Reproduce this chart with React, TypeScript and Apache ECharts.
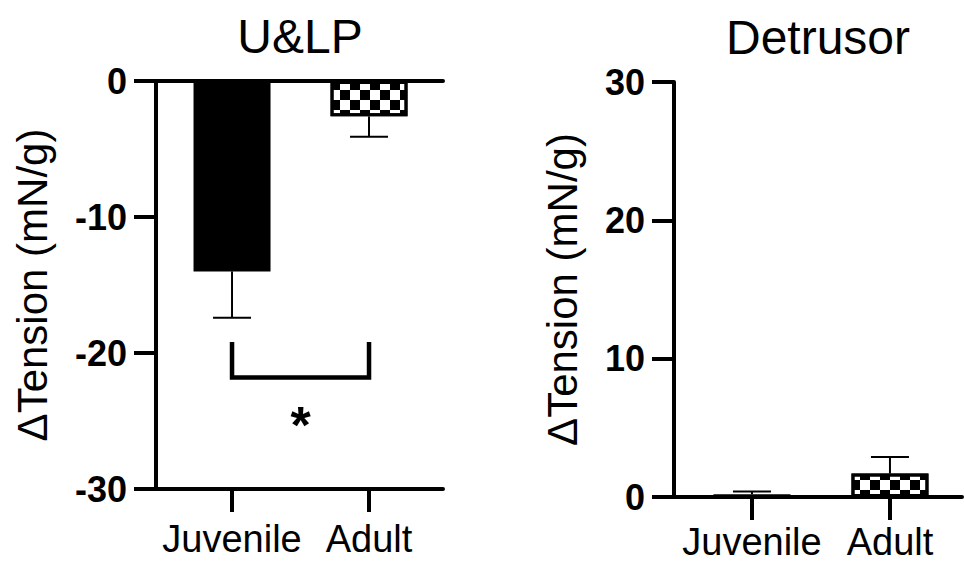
import React, { useEffect, useRef } from 'react';
import * as echarts from 'echarts';

// ---- data ----
const categories = ['Juvenile', 'Adult'];
const ulpMeans = [-14, -2.6];
const ulpSem = [3.4, 1.5];
const detMeans = [0.2, 1.7];
const detSem = [0.2, 1.2];
const ulpRange = [-30, 0];
const detRange = [0, 30];
const tickStep = 10;
const sigPair = [0, 1];
const sigLevels = [-19.2, -21.8];
const sigStarY = -25.3;
const sigText = '*';
const titles = ['U&LP', 'Detrusor'];
const yName = '\u0394Tension (mN/g)';

const FONT = "'Liberation Sans', Arial, Helvetica, sans-serif";

const checker = {
  symbol: 'rect',
  symbolSize: 1,
  color: '#000',
  backgroundColor: '#fff',
  dashArrayX: [[10, 10], [0, 10, 10, 0]],
  dashArrayY: [10, 0],
  rotation: 0,
};

function barData(means: number[]) {
  return means.map((m, i) =>
    i === 0
      ? { value: [i, m], itemStyle: { color: '#000' } }
      : { value: [i, m], itemStyle: { color: '#fff', borderColor: '#000', borderWidth: 3, decal: checker } }
  );
}

function errorSeries(idx: number, means: number[], sems: number[]) {
  return {
    type: 'custom',
    xAxisIndex: idx === 0 ? 0 : 2,
    yAxisIndex: idx,
    z: 5,
    silent: true,
    data: means.map((m, i) => [i, m, sems[i]]),
    renderItem: (params: any, api: any) => {
      const x = api.value(0);
      const m = api.value(1);
      const e = api.value(2);
      const end = m + (m < 0 ? -e : e);
      const p0 = api.coord([x, m]);
      const p1 = api.coord([x, end]);
      return {
        type: 'group',
        children: [
          { type: 'line', shape: { x1: p0[0], y1: p0[1], x2: p1[0], y2: p1[1] }, style: { stroke: '#000', lineWidth: 2 } },
          { type: 'line', shape: { x1: p1[0] - 19, y1: p1[1], x2: p1[0] + 19, y2: p1[1] }, style: { stroke: '#000', lineWidth: 2 } },
        ],
      };
    },
  };
}

const axisLineStyle = { color: '#000', width: 4 };

function catAxis(gridIndex: number, min: number, max: number, margin: number) {
  return {
    type: 'value',
    gridIndex,
    position: 'bottom',
    min,
    max,
    axisLine: { show: true, onZero: false, lineStyle: axisLineStyle },
    axisTick: { show: true, customValues: [0, 1], length: 23, lineStyle: { color: '#000', width: 4 } },
    axisLabel: {
      show: true,
      customValues: [0, 1],
      formatter: (v: number) => categories[Math.round(v)] ?? '',
      color: '#000',
      fontSize: 38,
      fontFamily: FONT,
      margin,
    },
    splitLine: { show: false },
  };
}

function valAxis(gridIndex: number, range: number[], nameGap: number) {
  return {
    type: 'value',
    gridIndex,
    position: 'left',
    min: range[0],
    max: range[1],
    interval: tickStep,
    name: yName,
    nameLocation: 'middle',
    nameGap,
    nameTextStyle: { color: '#000', fontSize: 42, fontFamily: FONT },
    axisLine: { show: true, onZero: false, lineStyle: axisLineStyle },
    axisTick: { show: true, length: 22, lineStyle: { color: '#000', width: 4 } },
    axisLabel: { color: '#000', fontSize: 36, fontWeight: 'bold', fontFamily: FONT, margin: 29 },
    splitLine: { show: false },
  };
}

export default function App() {
  const ref = useRef<HTMLDivElement>(null);
  useEffect(() => {
    if (!ref.current) return;
    const chart = echarts.init(ref.current, undefined, { renderer: 'svg' });
    const option: any = {
      animation: false,
      backgroundColor: '#fff',
      textStyle: { fontFamily: FONT },
      grid: [
        { left: 156, top: 81, width: 287, height: 408 },
        { left: 674, top: 82, width: 288, height: 415 },
      ],
      xAxis: [
        catAxis(0, -0.555, 1.54, 31),
        {
          type: 'value',
          gridIndex: 0,
          position: 'top',
          min: -0.555,
          max: 1.54,
          axisLine: { show: true, onZero: false, lineStyle: axisLineStyle },
          axisTick: { show: false },
          axisLabel: { show: false },
          splitLine: { show: false },
        },
        catAxis(1, -0.565, 1.522, 26),
      ],
      yAxis: [valAxis(0, ulpRange, 103), valAxis(1, detRange, 91)],
      graphic: [
        {
          type: 'text',
          x: 300,
          y: 12,
          style: { text: titles[0], fontSize: 48, fontFamily: FONT, fill: '#000', align: 'center', verticalAlign: 'top' },
        },
        {
          type: 'text',
          x: 818,
          y: 13,
          style: { text: titles[1], fontSize: 48, fontFamily: FONT, fill: '#000', align: 'center', verticalAlign: 'top' },
        },
      ],
      series: [
        {
          type: 'bar',
          xAxisIndex: 0,
          yAxisIndex: 0,
          barWidth: 77,
          data: barData(ulpMeans),
          silent: true,
        },
        errorSeries(0, ulpMeans, ulpSem),
        {
          type: 'bar',
          xAxisIndex: 2,
          yAxisIndex: 1,
          barWidth: 77,
          data: barData(detMeans),
          silent: true,
        },
        errorSeries(1, detMeans, detSem),
        {
          type: 'custom',
          xAxisIndex: 0,
          yAxisIndex: 0,
          silent: true,
          z: 6,
          data: [[sigPair[0], sigPair[1], sigLevels[0], sigLevels[1], sigStarY]],
          renderItem: (params: any, api: any) => {
            const a = api.value(0);
            const b = api.value(1);
            const top = api.value(2);
            const bot = api.value(3);
            const sy = api.value(4);
            const p1 = api.coord([a, top]);
            const p2 = api.coord([a, bot]);
            const p3 = api.coord([b, bot]);
            const p4 = api.coord([b, top]);
            const ps = api.coord([(a + b) / 2, sy]);
            return {
              type: 'group',
              children: [
                {
                  type: 'polyline',
                  shape: { points: [p1, p2, p3, p4] },
                  style: { stroke: '#000', lineWidth: 4.5, fill: 'none', lineJoin: 'miter' },
                },
                {
                  type: 'text',
                  x: ps[0],
                  y: ps[1],
                  style: { text: sigText, fontSize: 52, fontWeight: 'bold', fontFamily: FONT, fill: '#000', align: 'center', verticalAlign: 'middle' },
                },
              ],
            };
          },
        },
      ],
    };
    chart.setOption(option);
    return () => chart.dispose();
  }, []);
  return <div ref={ref} style={{ position: 'fixed', left: 0, top: 0, width: 964, height: 564, background: '#fff' }} />;
}
